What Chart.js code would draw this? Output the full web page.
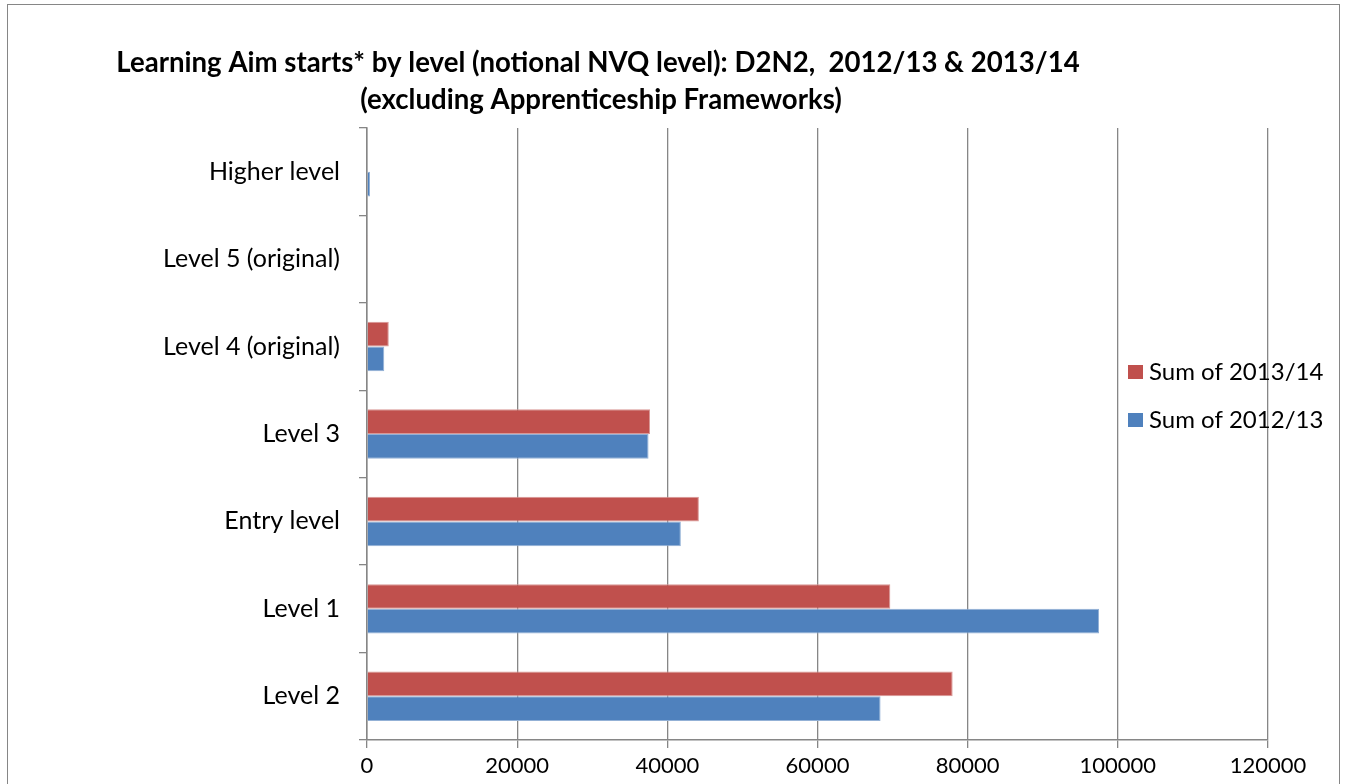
<!DOCTYPE html>
<html>
<head>
<meta charset="utf-8">
<script src="https://cdn.jsdelivr.net/npm/chart.js@4.4.0/dist/chart.umd.min.js"></script>
<style>
    html, body { margin: 0; padding: 0; background: #fff; overflow: hidden; }
    #wrap { position: relative; width: 1349px; height: 784px; }
    #frame { position: absolute; left: 7px; top: 4px; width: 1333px; height: 800px; border: 1px solid #868686; box-sizing: border-box; pointer-events: none; }
    canvas { display: block; }
</style>
</head>
<body>
<div id="wrap">
    <canvas id="levelChart" width="1349" height="784"></canvas>
    <div id="frame"></div>
</div>
<script>
const levels = ["Higher level", "Level 5 (original)", "Level 4 (original)", "Level 3", "Entry level", "Level 1", "Level 2"];
const starts1314 = [0, 60, 2900, 37700, 44200, 69700, 78000];
const starts1213 = [400, 80, 2300, 37500, 41800, 97500, 68400];
const seriesNames = ["Sum of 2013/14", "Sum of 2012/13"];
const titleLines = [
    "Learning Aim starts* by level (notional NVQ level): D2N2,  2012/13 & 2013/14",
    "(excluding Apprenticeship Frameworks)"
];

const FONT = "Lato, 'Open Sans', sans-serif";

/**
 * title drawn off-centre, like the original
 */
const titlePlugin = {
    id: "offTitle",
    afterDraw(chart) {
        const ctx = chart.ctx;
        ctx.save();
        ctx.fillStyle = "#000";
        ctx.font = "bold 27.6px " + FONT;
        ctx.textAlign = "center";
        ctx.textBaseline = "middle";
        ctx.fillText(titleLines[0], 598, 63);
        ctx.fillText(titleLines[1], 601, 100);
        ctx.restore();
    },
};

/**
 * legend sitting over the plot area
 */
const legendPlugin = {
    id: "overLegend",
    afterDraw(chart) {
        const ctx = chart.ctx;
        ctx.save();
        ctx.font = "24px " + FONT;
        ctx.textBaseline = "middle";
        ctx.textAlign = "left";
        chart.data.datasets.forEach((ds, i) => {
            const y = 372 + i * 48;
            ctx.fillStyle = ds.backgroundColor;
            ctx.fillRect(1128, y - 7, 15, 14);
            ctx.fillStyle = "#000";
            ctx.fillText(ds.label, 1149, y);
        });
        ctx.restore();
    },
};

const data = {
    labels: levels,
    datasets: [
        {
            label: seriesNames[0],
            data: starts1314,
            backgroundColor: "#C0504D",
            borderColor: "#D99795",
            borderWidth: 1,
        },
        {
            label: seriesNames[1],
            data: starts1213,
            backgroundColor: "#4F81BD",
            borderColor: "#93B1D6",
            borderWidth: 1,
        },
    ],
};

const config = {
    type: "bar",
    data: data,
    options: {
        indexAxis: "y",
        responsive: false,
        animation: false,
        categoryPercentage: 0.565,
        barPercentage: 1.0,
        layout: {
            padding: { left: 0, right: 81, top: 128, bottom: 0 },
        },
        scales: {
            x: {
                min: 0,
                max: 120000,
                afterFit: (s) => { s.height = 44; },
                ticks: {
                    stepSize: 20000,
                    color: "#000",
                    font: { family: FONT, size: 22 },
                    padding: 5,
                    callback: (value) => String(value),
                },
                grid: {
                    color: "#868686",
                    lineWidth: 1.3,
                    tickLength: 8,
                },
                border: { color: "#868686", width: 1.5 },
            },
            y: {
                afterFit: (s) => { s.width = 367; },
                ticks: {
                    color: "#000",
                    font: { family: FONT, size: 25 },
                    padding: 19,
                },
                grid: {
                    offset: true,
                    drawOnChartArea: false,
                    color: "#868686",
                    lineWidth: 1.3,
                    tickLength: 8,
                },
                border: { color: "#868686", width: 1.5 },
            },
        },
        plugins: {
            legend: { display: false },
            title: { display: false },
            tooltip: { enabled: false },
        },
    },
    plugins: [titlePlugin, legendPlugin],
};

new Chart(document.getElementById("levelChart"), config);
</script>
</body>
</html>
